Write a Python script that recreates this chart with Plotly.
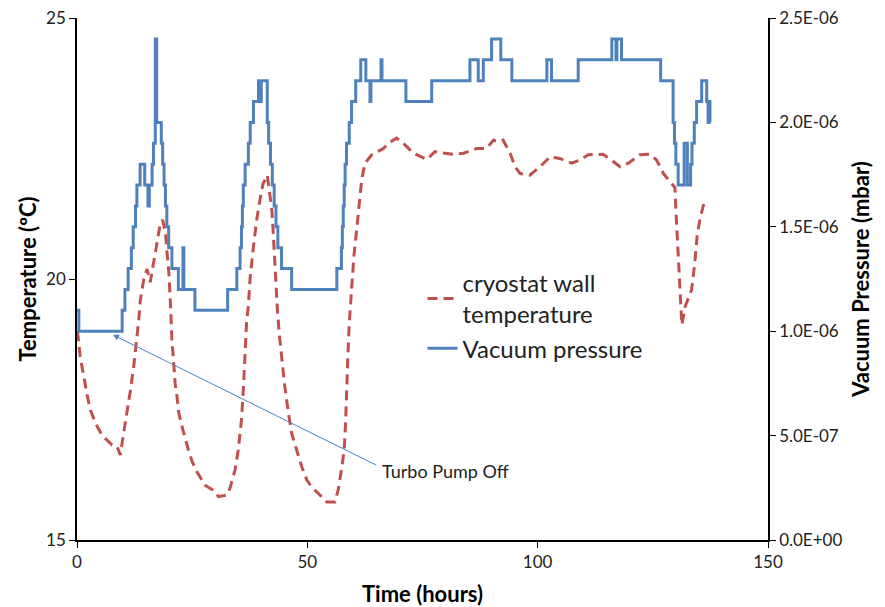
import plotly.graph_objects as go

# ---------------- data ----------------
temp_time = [0.0, 0.2, 0.7, 1.45, 2.2, 2.9, 4.0, 5.4, 7.6, 8.7, 9.4, 10.1, 10.85, 11.6, 12.3, 13.0,
             13.4, 13.75, 14.5, 15.2, 15.9, 16.6, 17.4, 18.1, 18.6, 19.2, 19.5, 19.9, 20.3, 20.6, 21.0,
             21.3, 21.7, 22.1, 22.8, 23.5, 24.2, 25.0, 26.0, 27.8, 30.0, 30.7, 32.5, 33.2, 34.3, 35.0,
             35.7, 36.1, 36.5, 36.8, 37.2, 37.6, 38.3, 39.0, 39.7, 40.4, 41.3, 41.9, 42.3, 42.6, 43.0,
             43.5, 43.9, 44.4, 45.1, 45.9, 46.6, 47.7, 48.8, 49.9, 50.9, 52.4, 54.2, 56.0, 56.7, 57.4,
             58.0, 58.3, 58.5, 58.8, 59.1, 59.6, 60.1, 60.7, 61.3, 61.8, 62.5, 64.0, 66.5, 67.6, 69.4,
             71.2, 73.0, 75.9, 77.7, 78.8, 81.7, 83.9, 86.8, 88.9, 90.4, 91.4, 92.5, 94.0, 95.1, 96.2,
             98.3, 100.5, 102.7, 104.8, 107.4, 109.2, 111.0, 114.2, 116.4, 117.9, 119.7, 122.2, 124.4,
             125.8, 127.3, 128.7, 129.8, 130.0, 130.3, 130.6, 130.9, 131.3, 132.0, 132.9, 133.4, 134.1,
             134.6, 135.2, 135.9, 136.5]
temperature = [19.0, 18.93, 18.51, 18.13, 17.78, 17.49, 17.24, 17.01, 16.82, 16.79, 16.63, 17.04, 17.43,
               17.87, 18.32, 18.83, 19.21, 19.6, 20.0, 20.19, 19.94, 20.3, 20.68, 21.07, 21.13, 20.88,
               20.56, 20.17, 19.5, 18.83, 18.38, 18.0, 17.75, 17.43, 17.17, 16.92, 16.72, 16.5, 16.31,
               16.05, 15.93, 15.83, 15.86, 15.99, 16.34, 16.72, 17.3, 17.87, 18.51, 19.15, 19.5, 20.04,
               20.62, 21.13, 21.51, 21.83, 21.99, 21.64, 21.32, 20.88, 20.2, 19.41, 18.96, 18.51, 17.94,
               17.43, 17.04, 16.72, 16.4, 16.15, 16.02, 15.89, 15.73, 15.73, 15.96, 16.34, 16.72, 17.24,
               17.87, 18.51, 19.15, 19.85, 20.43, 20.94, 21.45, 21.9, 22.22, 22.38, 22.5, 22.6, 22.7,
               22.57, 22.41, 22.29, 22.44, 22.42, 22.39, 22.41, 22.5, 22.5, 22.66, 22.63, 22.66, 22.41,
               22.15, 22.02, 21.99, 22.15, 22.34, 22.31, 22.22, 22.28, 22.38, 22.39, 22.25, 22.15, 22.22,
               22.38, 22.39, 22.28, 22.02, 21.86, 21.75, 21.32, 20.81, 20.24, 19.66, 19.12, 19.47, 19.69,
               19.79, 20.3, 20.81, 21.13, 21.39, 21.51]

press_time = [0.0, 0.4, 9.8, 10.4, 11.1, 11.8, 12.2, 12.7, 13.0, 13.7, 14.7, 15.4, 15.7, 16.3, 16.6,
              17.0, 17.3, 18.3, 18.6, 18.9, 19.2, 19.5, 19.9, 20.6, 22.0, 23.0, 23.2, 25.6, 32.7, 34.7,
              35.4, 35.7, 35.9, 36.1, 36.5, 37.2, 37.6, 38.3, 39.4, 39.8, 40.0, 41.3, 41.6, 42.0, 42.4,
              42.8, 43.2, 43.6, 44.4, 46.6, 56.4, 57.4, 57.6, 57.8, 58.0, 58.2, 58.5, 59.1, 59.6, 60.5,
              61.6, 62.7, 63.6, 63.8, 66.0, 66.2, 71.4, 77.0, 85.3, 87.1, 88.2, 90.0, 92.0, 94.4, 102.0,
              103.0, 108.8, 116.1, 117.0, 117.2, 118.2, 126.7, 129.4, 129.7, 130.0, 130.5, 131.8, 132.5,
              133.2, 133.5, 134.0, 134.5, 135.6, 136.7, 137.0, 137.2, 137.4]
pressure = [1.1e-6, 1.0e-6, 1.1e-6, 1.2e-6, 1.3e-6, 1.4e-6, 1.5e-6, 1.6e-6, 1.7e-6, 1.8e-6, 1.7e-6,
            1.6e-6, 1.7e-6, 1.8e-6, 1.9e-6, 2.4e-6, 2.0e-6, 1.9e-6, 1.8e-6, 1.7e-6, 1.6e-6, 1.5e-6,
            1.4e-6, 1.3e-6, 1.2e-6, 1.4e-6, 1.2e-6, 1.1e-6, 1.2e-6, 1.3e-6, 1.4e-6, 1.5e-6, 1.6e-6,
            1.7e-6, 1.8e-6, 1.9e-6, 2.0e-6, 2.1e-6, 2.2e-6, 2.1e-6, 2.2e-6, 2.0e-6, 1.9e-6, 1.8e-6,
            1.7e-6, 1.6e-6, 1.5e-6, 1.4e-6, 1.3e-6, 1.2e-6, 1.3e-6, 1.4e-6, 1.5e-6, 1.6e-6, 1.7e-6,
            1.8e-6, 1.9e-6, 2.0e-6, 2.1e-6, 2.2e-6, 2.3e-6, 2.2e-6, 2.1e-6, 2.2e-6, 2.3e-6, 2.2e-6,
            2.1e-6, 2.2e-6, 2.3e-6, 2.2e-6, 2.3e-6, 2.4e-6, 2.3e-6, 2.2e-6, 2.3e-6, 2.2e-6, 2.3e-6,
            2.4e-6, 2.3e-6, 2.4e-6, 2.3e-6, 2.2e-6, 2.0e-6, 1.9e-6, 1.8e-6, 1.7e-6, 1.9e-6, 1.7e-6,
            1.8e-6, 1.9e-6, 2.0e-6, 2.1e-6, 2.2e-6, 2.1e-6, 2.0e-6, 2.1e-6, 2.0e-6]

x_ticks = [0, 50, 100, 150]
temp_ticks = [15, 20, 25]
press_tickvals = [0, 5e-7, 1e-6, 1.5e-6, 2e-6, 2.5e-6]
press_ticktext = ["0.0E+00", "5.0E-07", "1.0E-06", "1.5E-06", "2.0E-06", "2.5E-06"]

RED = "#C0504D"
BLUE = "#4F81BD"
FONT = "Lato"

fig = go.Figure()
fig.add_trace(go.Scatter(x=temp_time, y=temperature, mode="lines",
                         name="cryostat wall<br>temperature",
                         line=dict(color=RED, width=3, dash="10px,6px"), yaxis="y"))
fig.add_trace(go.Scatter(x=press_time, y=pressure, mode="lines", name="Vacuum pressure",
                         line=dict(color=BLUE, width=3, shape="hv"), yaxis="y2"))

axis_common = dict(showgrid=False, zeroline=False, showline=True, linecolor="black", linewidth=1.5,
                   ticks="outside", ticklen=6, tickcolor="black", automargin=False,
                   tickfont=dict(family=FONT, size=17, color="#222"))

fig.update_layout(
    width=885, height=607,
    margin=dict(l=77, r=117, t=18, b=67),
    paper_bgcolor="white", plot_bgcolor="white",
    font=dict(family=FONT, color="black"),
    xaxis=dict(range=[0, 150], tickvals=x_ticks,
               title=dict(text="<b>Time (hours)</b>", font=dict(family=FONT, size=22), standoff=16),
               **axis_common),
    yaxis=dict(range=[15, 25], tickvals=temp_ticks,
               title=dict(text="<b>Temperature (ºC)</b>", font=dict(family=FONT, size=22), standoff=3),
               **axis_common),
    yaxis2=dict(range=[0, 2.5e-6], overlaying="y", side="right", anchor="x",
                tickvals=press_tickvals, ticktext=press_ticktext,
                title=dict(text="<b>Vacuum Pressure (mbar)</b>", font=dict(family=FONT, size=22), standoff=12),
                **axis_common),
    legend=dict(x=0.50, y=0.535, xanchor="left", yanchor="top", bgcolor="rgba(0,0,0,0)",
                font=dict(family=FONT, size=24, color="#222"), itemwidth=30, tracegroupgap=8),
    showlegend=True,
)

fig.add_annotation(x=7.8, y=18.93, xref="x", yref="y", ax=65.3, ay=16.42, axref="x", ayref="y",
                   text="", showarrow=True, arrowhead=2, arrowsize=1.2, arrowwidth=1, arrowcolor=BLUE)
fig.add_annotation(x=65.8, y=16.32, xref="x", yref="y", text="Turbo Pump Off", showarrow=False,
                   xanchor="left", yanchor="middle", font=dict(family=FONT, size=18, color="#222"))

fig.write_html("out.html", config={"displayModeBar": False},
               post_script="document.body.style.margin='0px';")
